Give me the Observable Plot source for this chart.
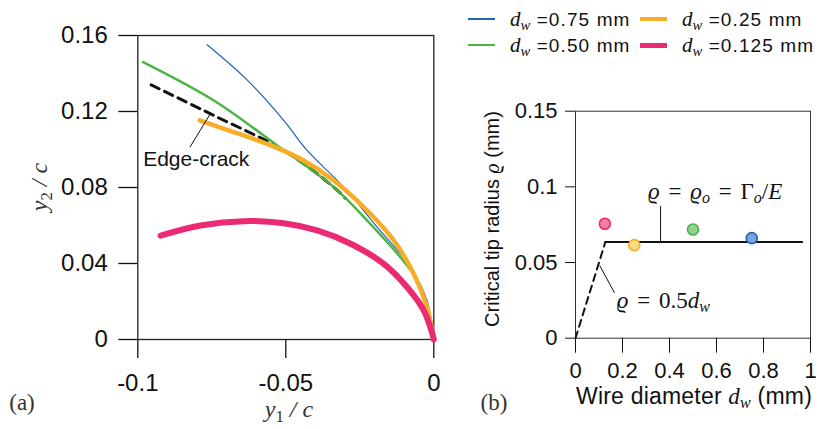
<!DOCTYPE html>
<html><head><meta charset="utf-8">
<script src="https://cdn.jsdelivr.net/npm/d3@7"></script>
<script src="https://cdn.jsdelivr.net/npm/@observablehq/plot@0.6"></script>
<style>
body{margin:0;background:#fff;}
#wrap{position:relative;width:820px;height:429px;overflow:hidden;font-family:"Liberation Sans",Arial,sans-serif;color:#111;}
.abs{position:absolute;white-space:nowrap;line-height:1;}
.m{font-family:"Liberation Serif","DejaVu Serif",serif;font-style:italic;}
.up{font-family:"Liberation Serif","DejaVu Serif",serif;font-style:normal;}
sub{font-size:0.7em;vertical-align:-0.28em;line-height:0;}
.sw{position:absolute;}
svg{overflow:visible;}
</style></head><body><div id="wrap"></div>
<script>
// ---- Panel (a): crack profiles y2/c vs y1/c ----
const dw075_y1 = [-0.0766,-0.0630,-0.0507,-0.0428,-0.0304,-0.0191,-0.0079,-0.0023,0];
const dw075_y2 = [0.1551,0.1365,0.1153,0.0995,0.0802,0.0591,0.0381,0.0205,0];
const dw050_y1 = [-0.0982,-0.0743,-0.0529,-0.0338,-0.0225,-0.0113,-0.0056,-0.0020,0];
const dw050_y2 = [0.1460,0.1258,0.1021,0.0802,0.0626,0.0433,0.0311,0.0160,0];
const dw025_y1 = [-0.0791,-0.0676,-0.0563,-0.0450,-0.0338,-0.0225,-0.0135,-0.0068,-0.0023,0];
const dw025_y2 = [0.1153,0.1091,0.1030,0.0951,0.0837,0.0679,0.0521,0.0346,0.0170,0];
const dw0125_y1 = [-0.0923,-0.0788,-0.0642,-0.0507,-0.0394,-0.0281,-0.0169,-0.0090,-0.0034,-0.0005,0];
const dw0125_y2 = [0.0547,0.0600,0.0623,0.0612,0.0574,0.0504,0.0398,0.0275,0.0153,0.0030,0];
const edge_y1 = [-0.0955,-0.0743,-0.0507,-0.0338,-0.0300];
const edge_y2 = [0.1340,0.1179,0.0995,0.0802,0.0745];
const xTicksA = [-0.1,-0.05,0];
const yTicksA = [0,0.04,0.08,0.12,0.16];

// ---- Panel (b): critical tip radius vs wire diameter ----
const wireDia = [0.125,0.25,0.5,0.75];
const wireKey = ["0.125 mm","0.25 mm","0.50 mm","0.75 mm"];
const tipRadius = [0.0756,0.0615,0.0718,0.0661];
const rhoLinear_dw = [0,0.127];
const rhoLinear_rho = [0,0.0635];
const rhoConst_dw = [0.127,0.965];
const rhoConst_rho = [0.0635,0.0635];
const xTicksB = [0,0.2,0.4,0.6,0.8,1];
const yTicksB = [0,0.05,0.1,0.15];

const legendLabels = ["0.75 mm","0.50 mm","0.25 mm","0.125 mm"];
const colors = {"0.75 mm":"#2263b8","0.50 mm":"#4cb447","0.25 mm":"#f8ad26","0.125 mm":"#ec2a73"};
const fills = {"0.75 mm":"#78a3d8","0.50 mm":"#95d38f","0.25 mm":"#fdd98c","0.125 mm":"#f27da6"};

const pts = (xs, ys) => xs.map((x,i)=>({x, y: ys[i]}));
const fmt = d => d === 0 ? "0" : String(d);
const sans = "Liberation Sans, Arial, sans-serif";

const plotA = Plot.plot({
  width: 450, height: 429,
  marginLeft: 137.3, marginRight: 16.7, marginTop: 35, marginBottom: 90,
  x: {domain: [-0.1, 0]}, y: {domain: [0, 0.16]},
  style: {fontFamily: sans, fontSize: "24px", color: "#111", background: "transparent", overflow: "visible"},
  marks: [
    Plot.frame({stroke: "#222", strokeWidth: 1.3}),
    Plot.axisY(yTicksA, {tickSize: 19, tickPadding: 11, tickFormat: fmt, label: null, fontSize: 24, strokeWidth: 1.3}),
    Plot.axisX(xTicksA, {tickSize: 19, tickPadding: 15, tickFormat: fmt, label: null, fontSize: 24, strokeWidth: 1.3}),
    Plot.line(pts(edge_y1, edge_y2), {x: "x", y: "y", stroke: "#111", strokeWidth: 3, strokeDasharray: "9,6", curve: "catmull-rom"}),
    Plot.line(pts(dw050_y1, dw050_y2), {x: "x", y: "y", stroke: colors["0.50 mm"], strokeWidth: 2.5, curve: "catmull-rom"}),
    Plot.line(pts(dw075_y1, dw075_y2), {x: "x", y: "y", stroke: colors["0.75 mm"], strokeWidth: 1.2, curve: "catmull-rom"}),
    Plot.line(pts(dw025_y1, dw025_y2), {x: "x", y: "y", stroke: colors["0.25 mm"], strokeWidth: 4.5, curve: "catmull-rom"}),
    Plot.line(pts(dw0125_y1, dw0125_y2), {x: "x", y: "y", stroke: colors["0.125 mm"], strokeWidth: 6, curve: "catmull-rom"}),
    Plot.link([{x1: -0.0824, y1: 0.1012, x2: -0.0755, y2: 0.1188}], {x1: "x1", y1: "y1", x2: "x2", y2: "y2", stroke: "#111", strokeWidth: 1}),
    Plot.text([{x: -0.0982, y: 0.0912, t: "Edge-crack"}], {x: "x", y: "y", text: "t", textAnchor: "start", lineAnchor: "bottom", fontSize: 21, fill: "#111"})
  ]
});

const plotB = Plot.plot({
  width: 370, height: 369,
  marginLeft: 125, marginRight: 10, marginTop: 50.7, marginBottom: 91.3,
  x: {domain: [0, 1]}, y: {domain: [0, 0.15]},
  style: {fontFamily: sans, fontSize: "22px", color: "#111", background: "transparent", overflow: "visible"},
  marks: [
    Plot.frame({stroke: "#333", strokeWidth: 1}),
    Plot.axisY(yTicksB, {tickSize: 10, tickPadding: 8, tickFormat: fmt, label: null, fontSize: 22}),
    Plot.axisX(xTicksB, {tickSize: 15, tickPadding: 9, tickFormat: fmt, label: null, fontSize: 22}),
    Plot.line(pts(rhoLinear_dw, rhoLinear_rho), {x: "x", y: "y", stroke: "#111", strokeWidth: 2, strokeDasharray: "7,5"}),
    Plot.line(pts(rhoConst_dw, rhoConst_rho), {x: "x", y: "y", stroke: "#111", strokeWidth: 2}),
    Plot.link([{x1: 0.362, y1: 0.0873, x2: 0.362, y2: 0.0635}, {x1: 0.166, y1: 0.030, x2: 0.103, y2: 0.048}],
      {x1: "x1", y1: "y1", x2: "x2", y2: "y2", stroke: "#111", strokeWidth: 1}),
    Plot.dot(wireDia.map((d,i)=>({d, r: tipRadius[i], k: wireKey[i]})),
      {x: "d", y: "r", r: 5.5, fill: d => fills[d.k], stroke: d => colors[d.k], strokeWidth: 1.6})
  ]
});

const wrap = document.getElementById("wrap");
plotA.style.position = "absolute"; plotA.style.left = "0px"; plotA.style.top = "0px";
plotB.style.position = "absolute"; plotB.style.left = "450px"; plotB.style.top = "60px";
wrap.appendChild(plotA); wrap.appendChild(plotB);

function addText(html, x, y, css, anchor) {
  const el = document.createElement("div");
  el.className = "abs";
  el.innerHTML = html;
  Object.assign(el.style, css || {});
  el.style.left = x + "px"; el.style.top = y + "px";
  el.style.transform = anchor || "translate(-50%,-50%)";
  wrap.appendChild(el);
  return el;
}
const sxB = plotB.scale("x"), syB = plotB.scale("y");

// axis titles and panel tags
addText('<span class="m">y</span><sub class="up">1</sub><span class="m"> / c</span>', 289, 409, {fontSize: "24px", color: "#333"});
addText('<span class="m">y</span><sub class="up">2</sub><span class="m"> / c</span>', 39, 187, {fontSize: "24px", color: "#333"}, "translate(-50%,-50%) rotate(-90deg)");
addText('(a)', 22, 402, {fontSize: "23px", fontFamily: "Liberation Serif, serif", color: "#333"});
addText('(b)', 494, 402, {fontSize: "23px", fontFamily: "Liberation Serif, serif", color: "#333"});
addText('Wire diameter <span class="m">d<sub>w</sub></span> (mm)', 694, 396, {fontSize: "23px", letterSpacing: "0.2px"});
addText('Critical tip radius <span class="m">ϱ</span> (mm)', 492, 219, {fontSize: "20px"}, "translate(-50%,-50%) rotate(-90deg)");

// panel (b) annotations placed with the plot's scales
const mathCss = {fontSize: "23px", fontFamily: "Liberation Serif, DejaVu Serif, serif", wordSpacing: "3px"};
addText('<span class="m">ϱ</span> = <span class="m">ϱ<sub>o</sub></span> = <span class="up">Γ</span><sub class="m">o</sub><span class="up">/</span><span class="m">E</span>',
  450 + sxB.apply(0.311), 60 + syB.apply(0.097), mathCss, "translate(0,-50%)");
addText('<span class="m">ϱ</span> = 0.5<span class="m">d<sub>w</sub></span>',
  450 + sxB.apply(0.178), 60 + syB.apply(0.025), mathCss, "translate(0,-50%)");

// legend
const legendPos = [[468, 19],[468, 45],[640, 19],[640, 45]];
const legendW = {"0.75 mm":1.3,"0.50 mm":2.6,"0.25 mm":4,"0.125 mm":5};
legendLabels.forEach((lab, i) => {
  const [lx, ly] = legendPos[i];
  const sw = document.createElement("div");
  sw.className = "sw";
  const h = legendW[lab];
  Object.assign(sw.style, {left: lx + "px", top: (ly - h/2) + "px", width: "27px", height: h + "px", background: colors[lab]});
  wrap.appendChild(sw);
  addText('<span class="m" style="font-size:21px;letter-spacing:0">d<sub>w</sub></span> =' + lab,
    lx + 42, ly, {fontSize: "19px", letterSpacing: "1.1px"}, "translate(0,-50%)");
});
</script></body></html>
